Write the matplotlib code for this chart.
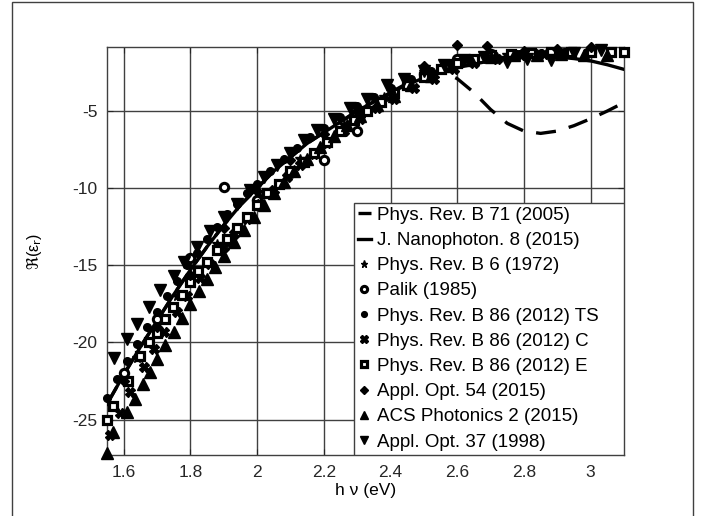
import matplotlib
matplotlib.use("Agg")
import matplotlib.pyplot as plt
from matplotlib.patches import Rectangle

plt.rcParams['font.family'] = ['Liberation Sans', 'DejaVu Sans']
plt.rcParams['mathtext.fontset'] = 'dejavusans'
plt.rcParams['axes.unicode_minus'] = False

# --- model curves
Ev_line = [1.55, 1.60, 1.65, 1.70, 1.75, 1.80, 1.85, 1.90, 1.95, 2.00, 2.05, 2.10,
           2.15, 2.20, 2.25, 2.30, 2.35, 2.40, 2.45, 2.50, 2.55, 2.60, 2.65, 2.70,
           2.75, 2.80, 2.85, 2.90, 2.95, 3.00, 3.05, 3.10]
Eps_nano = [-24.0, -22.1, -20.3, -18.6, -16.9, -15.3, -13.8, -12.4, -11.1, -10.0, -8.9, -8.0,
            -7.1, -6.4, -5.7, -5.0, -4.4, -3.8, -3.3, -2.85, -2.5, -2.2, -1.95, -1.75,
            -1.6, -1.5, -1.45, -1.5, -1.6, -1.75, -2.0, -2.3]
Eps_prb71 = [-24.0, -22.1, -20.3, -18.6, -16.9, -15.3, -13.8, -12.4, -11.1, -10.0, -8.9, -8.0,
             -7.1, -6.4, -5.7, -5.0, -4.4, -3.8, -3.2, -2.6, -2.4, -2.9, -3.8, -4.9,
             -5.8, -6.3, -6.45, -6.3, -5.95, -5.5, -5.0, -4.45]

# --- measured data
Ev_prb6 = [1.64, 1.76, 1.88, 2.01, 2.13, 2.26, 2.38, 2.50, 2.63, 2.75, 2.88, 3.00]
Eps_prb6 = [-21.0, -17.0, -13.6, -10.6, -8.1, -5.9, -4.1, -2.5, -1.6, -1.4, -1.3, -1.2]

Ev_palik = [1.60, 1.70, 1.80, 1.90, 2.00, 2.10, 2.20, 2.30, 2.40, 2.50, 2.60, 2.70, 2.80, 2.90, 3.00]
Eps_palik = [-22.0, -18.5, -14.5, -9.9, -10.8, -9.0, -8.2, -6.3, -4.0, -2.6, -1.6, -1.3, -1.3, -1.2, -1.2]

Ev_ts = [1.55, 1.58, 1.61, 1.64, 1.67, 1.70, 1.73, 1.76, 1.79, 1.82, 1.85, 1.88, 1.91, 1.94,
         1.97, 2.00, 2.04, 2.08, 2.12, 2.16, 2.20, 2.25, 2.30, 2.35, 2.40, 2.46, 2.52, 2.58,
         2.64, 2.71, 2.78, 2.85, 2.92, 2.99, 3.06]
Eps_ts = [-23.6, -22.4, -21.2, -20.1, -19.0, -18.0, -17.0, -16.0, -15.0, -14.2, -13.3, -12.5,
          -11.7, -11.0, -10.3, -9.7, -8.9, -8.1, -7.4, -6.7, -6.1, -5.4, -4.7, -4.1, -3.5,
          -2.9, -2.4, -1.9, -1.6, -1.4, -1.3, -1.25, -1.2, -1.2, -1.2]

Ev_c = [1.56, 1.59, 1.62, 1.66, 1.69, 1.72, 1.76, 1.79, 1.83, 1.86, 1.90, 1.93, 1.97, 2.01,
        2.05, 2.09, 2.13, 2.17, 2.21, 2.26, 2.31, 2.36, 2.41, 2.47, 2.53, 2.59, 2.65, 2.72,
        2.79, 2.86, 2.93, 3.00]
Eps_c = [-26.0, -24.6, -23.2, -21.6, -20.4, -19.3, -18.0, -17.0, -15.8, -14.9, -13.8, -13.0,
         -12.0, -11.0, -10.1, -9.3, -8.5, -7.8, -7.1, -6.3, -5.5, -4.8, -4.2, -3.5, -2.9,
         -2.3, -1.9, -1.6, -1.4, -1.3, -1.25, -1.2]

Ev_e = [1.55, 1.567, 1.612, 1.648, 1.675, 1.70, 1.723, 1.747, 1.775, 1.80, 1.822, 1.85, 1.88,
        1.91, 1.94, 1.97, 2.00, 2.03, 2.065, 2.10, 2.14, 2.17, 2.21, 2.25, 2.29, 2.33, 2.37,
        2.41, 2.45, 2.50, 2.55, 2.60, 2.65, 2.70, 2.76, 2.82, 2.88, 2.94, 3.00, 3.06, 3.10]
Eps_e = [-25.0, -24.1, -22.5, -20.9, -20.0, -19.4, -18.5, -17.7, -16.9, -16.1, -15.4, -14.8,
         -14.0, -13.3, -12.6, -11.9, -11.1, -10.3, -9.7, -8.9, -8.3, -7.7, -7.0, -6.3, -5.6,
         -5.0, -4.4, -3.8, -3.3, -2.8, -2.3, -1.9, -1.6, -1.4, -1.3, -1.25, -1.2, -1.2,
         -1.15, -1.2, -1.2]

Ev_ao54 = [1.60, 1.70, 1.80, 1.90, 2.00, 2.10, 2.20, 2.30, 2.40, 2.50, 2.60, 2.69, 2.80, 2.90, 3.00]
Eps_ao54 = [-22.5, -19.0, -15.6, -12.6, -10.2, -8.2, -6.5, -5.0, -3.6, -2.1, -0.75, -0.8,
            -1.1, -1.0, -0.85]

Ev_acs = [1.55, 1.567, 1.61, 1.633, 1.657, 1.68, 1.70, 1.725, 1.75, 1.775, 1.80, 1.825, 1.85,
          1.875, 1.90, 1.93, 1.96, 1.99, 2.02, 2.05, 2.08, 2.11, 2.15, 2.19, 2.23, 2.27, 2.31,
          2.36, 2.41, 2.46, 2.52, 2.58, 2.64, 2.70, 2.77, 2.84, 2.91, 2.98, 3.05]
Eps_acs = [-27.2, -25.8, -24.5, -23.7, -22.7, -21.9, -21.1, -20.2, -19.3, -18.4, -17.5, -16.7,
           -15.9, -15.1, -14.4, -13.5, -12.7, -11.9, -11.1, -10.3, -9.6, -8.9, -8.1, -7.3,
           -6.6, -5.9, -5.3, -4.6, -4.0, -3.3, -2.7, -2.1, -1.7, -1.5, -1.4, -1.35, -1.3,
           -1.35, -1.4]

Ev_ao37 = [1.57, 1.61, 1.64, 1.675, 1.71, 1.75, 1.78, 1.82, 1.86, 1.90, 1.94, 1.98, 2.02, 2.06,
           2.10, 2.14, 2.18, 2.23, 2.28, 2.33, 2.39, 2.44, 2.50, 2.56, 2.62, 2.68, 2.75, 2.81,
           2.88, 2.95, 3.03]
Eps_ao37 = [-21.0, -19.8, -18.8, -17.7, -16.6, -15.7, -14.8, -13.8, -12.8, -11.9, -11.0, -10.1,
            -9.3, -8.5, -7.7, -6.9, -6.2, -5.5, -4.8, -4.2, -3.3, -2.9, -2.4, -2.0, -1.7, -1.5,
            -1.85, -1.6, -1.7, -1.25, -1.05]

XTicks = [1.6, 1.8, 2.0, 2.2, 2.4, 2.6, 2.8, 3.0]
XTickLabels = ['1.6', '1.8', '2', '2.2', '2.4', '2.6', '2.8', '3']
YTicks = [-25, -20, -15, -10, -5]

fig = plt.figure(figsize=(7.02, 5.16), dpi=100)
ax = fig.add_axes([0.1524, 0.1182, 0.7365, 0.7907])

ax.plot(Ev_line, Eps_prb71, color='k', lw=2.4, dashes=(6, 4), label='Phys. Rev. B 71 (2005)', zorder=4)
ax.plot(Ev_line, Eps_nano, color='k', lw=2.4, label='J. Nanophoton. 8 (2015)', zorder=4)

mk = dict(ls='none', color='k', clip_on=False, zorder=5)
ax.plot(Ev_prb6, Eps_prb6, marker='*', ms=7, label='Phys. Rev. B 6 (1972)', **mk)
ax.plot(Ev_palik, Eps_palik, marker='o', ms=6, mfc='white', mew=2.2, label='Palik (1985)', **mk)
ax.plot(Ev_ts, Eps_ts, marker='o', ms=5.5, label='Phys. Rev. B 86 (2012) TS', **mk)
ax.plot(Ev_c, Eps_c, marker='X', ms=7, label='Phys. Rev. B 86 (2012) C', **mk)
ax.plot(Ev_e, Eps_e, marker='s', ms=6, mfc='white', mew=2.3, label='Phys. Rev. B 86 (2012) E', **mk)
ax.plot(Ev_ao54, Eps_ao54, marker='D', ms=5.5, label='Appl. Opt. 54 (2015)', **mk)
ax.plot(Ev_acs, Eps_acs, marker='^', ms=8.5, label='ACS Photonics 2 (2015)', **mk)
ax.plot(Ev_ao37, Eps_ao37, marker='v', ms=8.5, label='Appl. Opt. 37 (1998)', **mk)

ax.set_xlim(1.55, 3.1)
ax.set_ylim(-27.3, -0.85)
ax.set_xticks(XTicks)
ax.set_xticklabels(XTickLabels)
ax.set_yticks(YTicks)
ax.tick_params(labelsize=12.5, direction='in', length=4, pad=7, colors='#262626',
               top=True, right=True)
ax.grid(True, color='#404040', lw=1.0)
ax.set_axisbelow(True)
for s in ax.spines.values():
    s.set_color('#404040')
    s.set_linewidth(1.0)

ax.set_xlabel('h \u03bd (eV)', fontsize=12.5, labelpad=2)
ax.set_ylabel('$\\Re$(\u03b5$_{\\rm r}$)', fontsize=11.5, labelpad=20)

# legend box drawn separately (MATLAB style: extra space on the right)
x0 = (354 - 107) / 517
ytop = (455 - 203) / 408
ax.add_patch(Rectangle((x0, 0), 1 - x0, ytop, transform=ax.transAxes, facecolor='white',
                       edgecolor='#404040', lw=1.0, zorder=6))
leg = ax.legend(loc='upper left', bbox_to_anchor=(x0, ytop), borderaxespad=0, fontsize=13.5,
                handlelength=0.7, handletextpad=0.35, labelspacing=0.43, borderpad=0.2,
                frameon=False, markerscale=0.75)
leg.set_zorder(7)

# outer frame (cut off at the bottom)
fig.patches.append(Rectangle((12 / 702, -0.2), 681 / 702, 1.2 - 2 / 516, transform=fig.transFigure,
                             fill=False, edgecolor='#404040', lw=1.0, clip_on=False))

fig.savefig('out.png', dpi=100)
